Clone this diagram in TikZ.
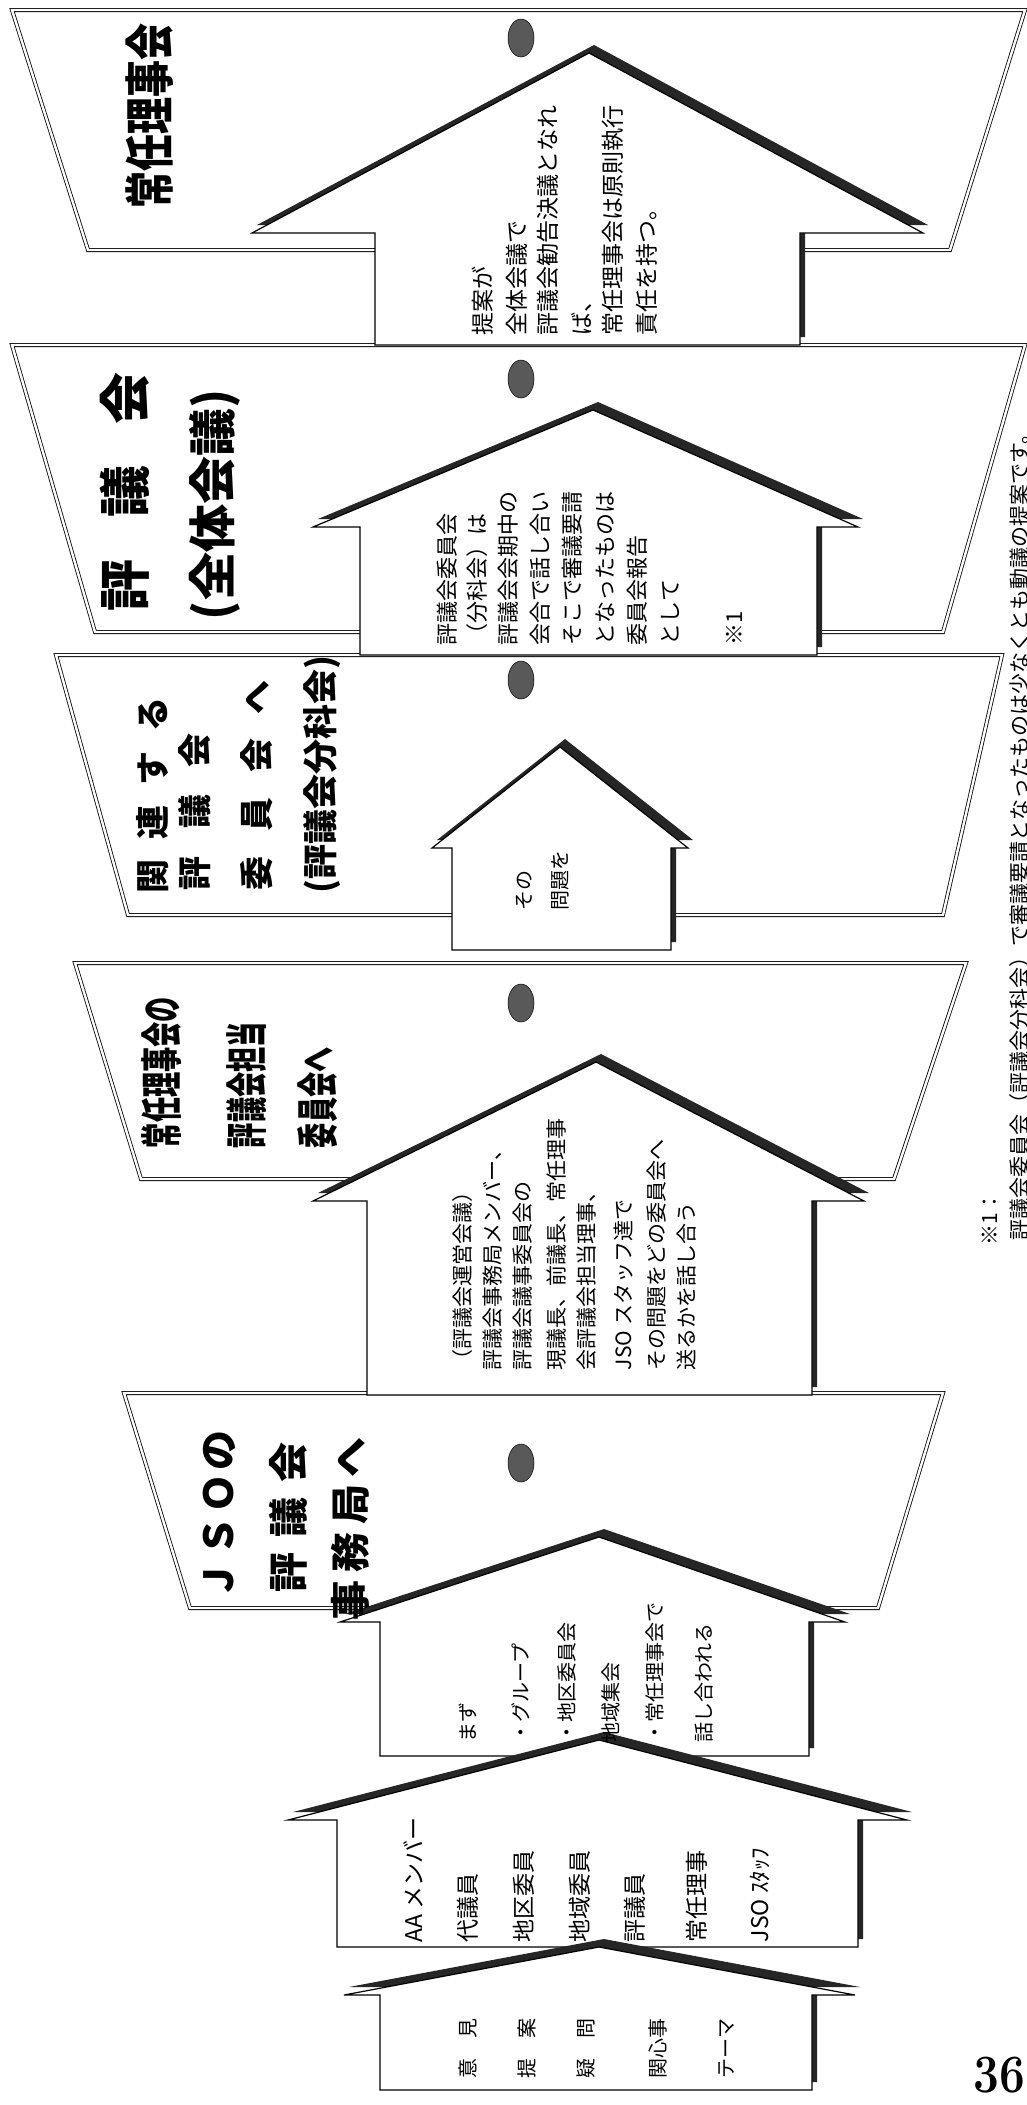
\documentclass[tikz,border=0pt]{standalone}
\usepackage{fontspec}
\usepackage{graphicx}
\newfontfamily\jp{Noto Sans CJK JP}
\tikzset{
 bn/.style={draw=black, line width=0.8pt, double=white, double distance=2.4pt, fill=white, line join=miter},
 ar/.style={draw=black, line width=1.2pt, fill=white, line join=miter},
 shd/.style={fill=black!85},
 hole/.style={draw=black, line width=0.5pt, fill=black!65},
 tx/.style={rotate=90, anchor=west, inner sep=0pt, outer sep=0pt},
 body/.style={tx, font=\jp\fontsize{#1}{#1}\selectfont},
 ttl/.style={tx, font=\jp\bfseries\fontsize{#1}{#1}\selectfont},
}
% apex x, apex y, barb y, left barb x, right barb x, shaft left, shaft right, bottom y
\newcommand\myarrow[8]{%
 \fill[shd, shift={(5,-8)}] (#1,#2) -- (#5,#3) -- (#7,#3) -- (#7,#8) -- (#6,#8) -- (#6,#3) -- (#4,#3) -- cycle;
 \draw[ar] (#1,#2) -- (#5,#3) -- (#7,#3) -- (#7,#8) -- (#6,#8) -- (#6,#3) -- (#4,#3) -- cycle;
}
\begin{document}
\begin{tikzpicture}[x=1pt,y=-1pt]
\useasboundingbox (0,0) rectangle (1027,2105);
\fill[white] (0,0) rectangle (1027,2105);

% banners
\draw[bn] (12,10) -- (1025,10) -- (950,250) -- (88,250) -- cycle;
\draw[bn] (12,345) -- (1025,345) -- (943,632) -- (95,632) -- cycle;
\draw[bn] (56,655) -- (1002,655) -- (943,915) -- (128,915) -- cycle;
\draw[bn] (75,963) -- (966,963) -- (894,1179) -- (141,1179) -- cycle;
\draw[bn] (124,1393) -- (943,1393) -- (878,1608) -- (190,1608) -- cycle;

% holes
\foreach \yy in {38,379,680,1003,1463}
  \path[hole] (521,\yy) ellipse [x radius=13, y radius=19];

% arrows
\myarrow{589}{53}{233}{252}{923}{375}{800}{345}
\myarrow{593}{410}{527}{313}{858}{360}{817}{655}
\myarrow{560}{747}{848}{432}{688}{452}{671}{950}
\myarrow{596}{1062}{1201}{313}{864}{367}{812}{1395}
\myarrow{599}{1537}{1622}{340}{845}{380}{809}{1756}
\myarrow{599}{1740}{1820}{288}{907}{337}{858}{1947}
\myarrow{599}{1947}{1995}{344}{855}{380}{812}{2090}

% banner titles
\node[ttl=50] (b5) at (150,208) {\scalebox{0.74}[1]{常任理事会}};

\node[ttl=52] (b4a) at (125,611) {\makebox[239pt][s]{評\hfill 議\hfill 会}};
\node[ttl=48] (b4b) at (215,620) {\makebox[237pt][s]{(全体会議)}};

\node[ttl=34] (b3a) at (153,893) {\makebox[196pt][s]{関\hfill 連\hfill す\hfill る}};
\node[ttl=34] (b3b) at (195,890) {\makebox[157pt][s]{評\hfill 議\hfill 会}};
\node[ttl=34] (b3c) at (257,890) {\makebox[210pt][s]{委\hfill 員\hfill 会\hfill へ}};
\node[ttl=35] (b3d) at (322,893) {\makebox[226pt][s]{(評議会分科会)}};

\node[ttl=42] (b2a) at (162,1148) {\scalebox{0.6}[1]{常任理事会の}};
\node[ttl=42] (b2b) at (247,1148) {\scalebox{0.6}[1]{評議会担当}};
\node[ttl=42] (b2c) at (318,1148) {\scalebox{0.6}[1]{委員会へ}};

\node[ttl=40] (b1a) at (219,1600) {\makebox[170pt][s]{Ｊ\hfill Ｓ\hfill Ｏ\hfill の}};
\node[ttl=40] (b1b) at (288,1592) {\makebox[150pt][s]{評\hfill 議\hfill 会}};
\node[ttl=40] (b1c) at (350,1620) {\makebox[183pt][s]{事\hfill 務\hfill 局\hfill へ}};

% arrow 5 text
\node[body=23] (t5a) at (483,335) {提案が};
\node[body=23] (t5b) at (517,335) {全体会議で};
\node[body=23] (t5c) at (548,335) {評議会勧告決議となれ};
\node[body=23] (t5d) at (582,335) {ば、};
\node[body=23] (t5e) at (613,335) {常任理事会は原則執行};
\node[body=23] (t5f) at (647,335) {責任を持つ。};

% arrow 4 text
\node[body=22] (t4a) at (447,645) {評議会委員会};
\node[body=22] (t4b) at (477,645) {（分科会）は};
\node[body=22] (t4c) at (508,645) {評議会会期中の};
\node[body=22] (t4d) at (540,645) {会合で話し合い};
\node[body=22] (t4e) at (572,645) {そこで審議要請};
\node[body=22] (t4f) at (605,645) {となったものは};
\node[body=22] (t4g) at (637,645) {委員会報告};
\node[body=22] (t4h) at (670,645) {として};
\node[body=22] (t4i) at (734,645) {※1};

% arrow 3 text
\node[body=20] (t3a) at (524,910) {その};
\node[body=20] (t3b) at (560,910) {問題を};

% arrow 2 text
\node[body=21] (t2a) at (463,1370) {（評議会運営会議）};
\node[body=21] (t2b) at (493,1370) {評議会事務局メンバー、};
\node[body=21] (t2c) at (523,1370) {評議会議事委員会の};
\node[body=21] (t2d) at (557,1370) {現議長、前議長、常任理事};
\node[body=21] (t2e) at (587,1370) {会評議会担当理事、};
\node[body=21] (t2f) at (623,1370) {JSO スタッフ達で};
\node[body=21] (t2g) at (657,1370) {その問題をどの委員会へ};
\node[body=21] (t2h) at (687,1370) {送るかを話し合う};

% arrow 1 text
\node[body=20] (t1a) at (468,1742) {まず};
\node[body=20] (t1b) at (521,1742) {・グループ};
\node[body=20] (t1c) at (567,1742) {・地区委員会};
\node[body=20] (t1d) at (611,1742) {地域集会};
\node[body=20] (t1e) at (655,1742) {・常任理事会で};
\node[body=20] (t1f) at (704,1742) {話し合われる};

% arrow 0 text
\node[body=23] (t0a) at (413,1942) {AA メンバー};
\node[body=23] (t0b) at (468,1942) {代議員};
\node[body=23] (t0c) at (524,1942) {地区委員};
\node[body=23] (t0d) at (580,1942) {地域委員};
\node[body=23] (t0e) at (635,1942) {評議員};
\node[body=23] (t0f) at (697,1942) {常任理事};
\node[body=23] (t0g) at (760,1942) {JSO ｽﾀｯﾌ};

% arrow -1 text
\node[body=20] (tma) at (468,2078) {意　見};
\node[body=20] (tmb) at (527,2078) {提　案};
\node[body=20] (tmc) at (586,2078) {疑　問};
\node[body=20] (tmd) at (658,2078) {関心事};
\node[body=20] (tme) at (727,2078) {テーマ};

% footnote
\node[body=21] (fn1) at (990,1245) {※1：};
\node[body=21] (fn2) at (1020,1240) {評議会委員会（評議会分科会）で審議要請となったものは少なくとも動議の提案です。};

% page number
\node[inner sep=0pt, font=\bfseries\fontsize{54}{54}\selectfont] (pg) at (999,2075) {\scalebox{0.85}[1]{36}};
\end{tikzpicture}
\end{document}
